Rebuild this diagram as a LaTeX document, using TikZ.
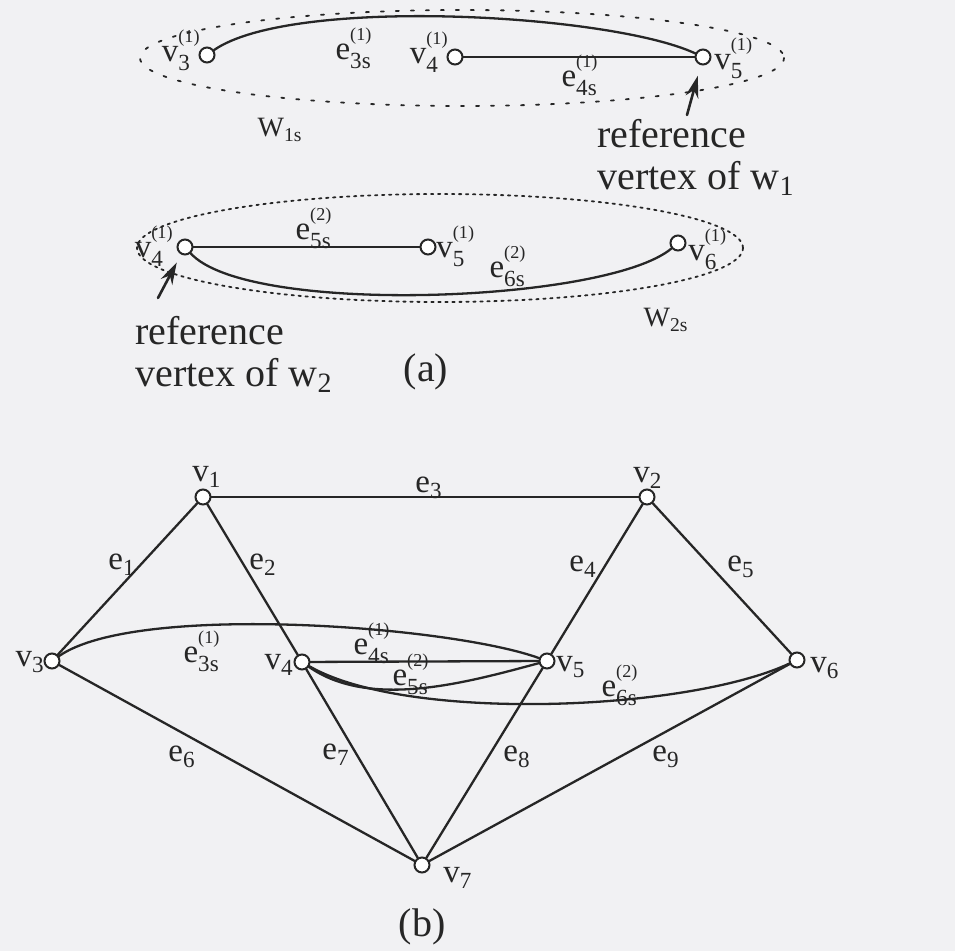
\documentclass[tikz,border=0pt]{standalone}
\usepackage{fontspec}
\usepackage{amsmath}
\setmainfont{Liberation Serif}
\usetikzlibrary{arrows.meta}
\definecolor{inkgray}{RGB}{38,38,38}
\definecolor{scanpaper}{RGB}{241,241,243}
\newcommand{\vsub}[1]{v\textsubscript{#1}}
\newcommand{\esub}[1]{e\textsubscript{#1}}
\newcommand{\supmark}[1]{\raisebox{0.22em}{\scalebox{0.55}{#1}}}
\newcommand{\vsup}[2]{v$_{\text{#1}}^{\supmark{#2}}$}
\newcommand{\esup}[2]{e$_{\text{#1}}^{\supmark{#2}}$}

\begin{document}
\begin{tikzpicture}[x=0.5pt,y=-0.5pt,line cap=round,
  vtx/.style={circle,draw=inkgray,fill=white,line width=1pt,inner sep=0pt,minimum size=7.5pt},
  edge/.style={draw=inkgray,line width=1.15pt},
  lab/.style={inner sep=0pt,text=inkgray,font=\fontsize{16.5}{18}\selectfont},
  captext/.style={inner sep=0pt,text=inkgray,font=\fontsize{20}{21}\selectfont,align=left},
  walk/.style={draw=inkgray,line width=0.9pt,dash pattern=on 1.5pt off 6pt},
  walkdense/.style={draw=inkgray,line width=0.9pt,dash pattern=on 1.2pt off 2.3pt},
  refarrow/.style={draw=inkgray,line width=1.3pt,-{Stealth[length=11pt,width=6.5pt]}}]
  \fill[scanpaper] (0,0) rectangle (955,951);
  \useasboundingbox (0,0) rectangle (955,951);

  \draw[walk] (462,58) ellipse [x radius=322,y radius=48];
  \node[vtx] (s3) at (207,55) {};
  \node[vtx] (s4) at (455,57) {};
  \node[vtx] (s5) at (703,57) {};
  \draw[edge] (s4) -- (s5);
  \draw[edge] (s3) to[out=35,in=155,looseness=0.5] (s5);
  \node[lab,anchor=base east] (ls3) at (201,62) {\vsup{3}{(1)}};
  \node[lab,anchor=base east] (ls4) at (449,64) {\vsup{4}{(1)}};
  \node[lab,anchor=base west] (ls5) at (714,70) {\vsup{5}{(1)}};
  \node[lab,anchor=base] (es3) at (354,60) {\esup{3s}{(1)}};
  \node[lab,anchor=base] (es4) at (580,87) {\esup{4s}{(1)}};
  \node[lab,anchor=base,font=\fontsize{14}{16}\selectfont] (w1s) at (280,137) {W\textsubscript{1s}};
  \node[captext,anchor=north west] (ref1) at (597,119) {reference\\vertex of w\textsubscript{1}};
  \coordinate (ref1tail) at (687,115);
  \draw[refarrow,shorten >=5.5pt] (ref1tail) -- (s5);

  \draw[walkdense] (440,248) ellipse [x radius=303,y radius=54];
  \node[vtx] (t4) at (185,247) {};
  \node[vtx] (t5) at (428,247) {};
  \node[vtx] (t6) at (678,243) {};
  \draw[edge] (t4) -- (t5);
  \draw[edge] (t4) to[out=-48,in=-140,looseness=0.45] (t6);
  \node[lab,anchor=base east] (lt4) at (174,258) {\vsup{4}{(1)}};
  \node[lab,anchor=base west] (lt5) at (436,258) {\vsup{5}{(1)}};
  \node[lab,anchor=base west] (lt6) at (688,261) {\vsup{6}{(1)}};
  \node[lab,anchor=base] (et5) at (314,240) {\esup{5s}{(2)}};
  \node[lab,anchor=base] (et6) at (508,278) {\esup{6s}{(2)}};
  \node[lab,anchor=base,font=\fontsize{14}{16}\selectfont] (w2s) at (666,327) {W\textsubscript{2s}};
  \node[captext,anchor=north west] (ref2) at (135,316) {reference\\vertex of w\textsubscript{2}};
  \coordinate (ref2tail) at (158,298);
  \draw[refarrow,shorten >=4.5pt] (ref2tail) -- (t4);
  \node[captext,anchor=base] (capa) at (426,382) {(a)};

  \foreach \n/\x/\y/\a/\lx/\ly in {1/203/497/base/207/482, 2/647/497/base/648/483,
      3/52/661/base east/45/667, 4/302/662/base east/294/670, 5/547/661/base west/556/672,
      6/797/660/base west/810/673, 7/422/865/base west/443/883} {
    \node[vtx] (v\n) at (\x,\y) {};
    \node[lab,anchor=\a] (lv\n) at (\lx,\ly) {\vsub{\n}};
  }
  \foreach \a/\b in {1/2,1/3,1/4,2/5,2/6,3/7,4/7,5/7,6/7,4/5}
    \draw[edge] (v\a) -- (v\b);
  \draw[edge] (v3) to[out=35,in=160,looseness=0.5] (v5);
  \draw[edge] (v4) to[out=-35,in=-165,looseness=0.83] (v5);
  \draw[edge] (v4) to[out=-30,in=-155,looseness=0.6] (v6);
  \foreach \t/\x/\y [count=\n] in {{\esub{1}}/122/570, {\esub{2}}/263/570, {\esub{3}}/429/493,
      {\esub{4}}/583/572, {\esub{5}}/741/572, {\esub{6}}/182/762, {\esub{7}}/336/760,
      {\esub{8}}/517/762, {\esub{9}}/666/762, {\esup{3s}{(1)}}/202/663, {\esup{4s}{(1)}}/372/655,
      {\esup{5s}{(2)}}/411/686, {\esup{6s}{(2)}}/620/697} {
    \node[lab,anchor=base] (le\n) at (\x,\y) {\t};
  }
  \node[captext,anchor=base] (capb) at (422,937) {(b)};
\end{tikzpicture}
\end{document}
